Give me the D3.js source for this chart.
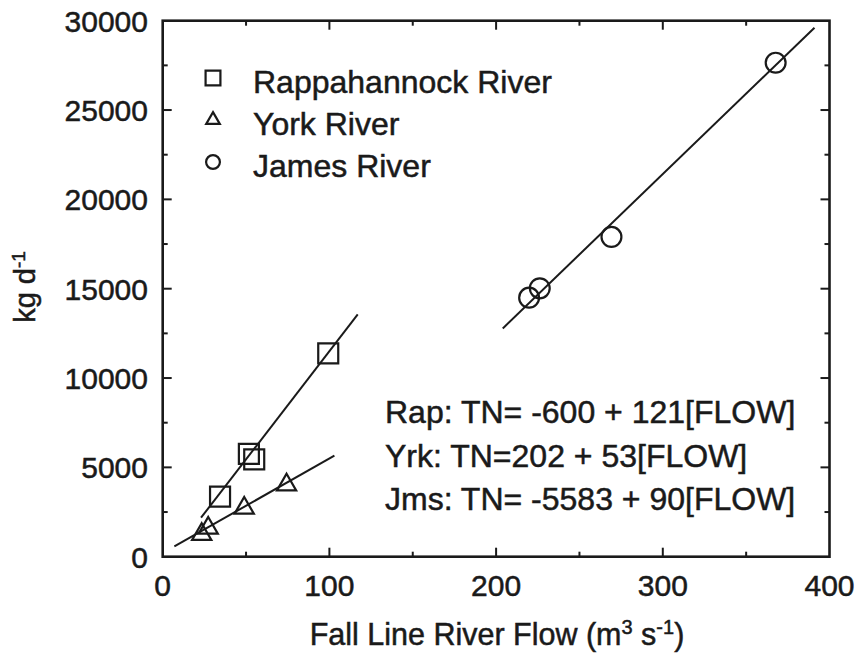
<!DOCTYPE html>
<html>
<head>
<meta charset="utf-8">
<script src="https://cdn.jsdelivr.net/npm/d3@7"></script>
<style>
  html, body { margin: 0; padding: 0; background: #fff; }
  svg { display: block; }
  text { font-family: "Liberation Sans", Arial, Helvetica, sans-serif; fill: #1a1a1a; stroke: #1a1a1a; stroke-width: 0.5px; }
</style>
</head>
<body>
<svg id="chart" width="861" height="654"></svg>
<script>
// Fall-line river flow (m3 s-1) vs total nitrogen load (kg d-1)
const rappFlow = [34.4, 51.7, 54.9, 99.3];
const rappLoad = [3360, 5750, 5450, 11380];
const yorkFlow = [23.4, 27.3, 48.9, 74.3];
const yorkLoad = [1250, 1600, 2720, 4020];
const jamesFlow = [219.8, 226.2, 269.2, 367.7];
const jamesLoad = [14500, 15020, 17900, 27650];

// Regression fits: TN = intercept + slope * FLOW, drawn over the span [from, to]
const fitNames = ["Rap", "Yrk", "Jms"];
const fitIntercepts = [-600, 202, -5583];
const fitSlopes = [121, 53, 90];
const fitFrom = [23, 7, 204];
const fitTo = [117, 103, 391];

const legendNames = ["Rappahannock River", "York River", "James River"];
const xTicks = [0, 100, 200, 300, 400];
const yTicks = [0, 5000, 10000, 15000, 20000, 25000, 30000];

const svg = d3.select("#chart");
const plotL = 162.7, plotR = 829.5, plotT = 20.7, plotB = 556.7;

const x = d3.scaleLinear().domain([0, 400]).range([plotL, plotR]);
const y = d3.scaleLinear().domain([0, 30000]).range([plotB, plotT]);

const ink = "#1a1a1a";

// Frame
svg.append("rect")
  .attr("x", plotL).attr("y", plotT)
  .attr("width", plotR - plotL).attr("height", plotB - plotT)
  .attr("fill", "none").attr("stroke", ink).attr("stroke-width", 2.6);

// Inward ticks on all four sides
const xMinor = d3.range(50, 400, 100);
const yMinor = d3.range(2500, 30000, 5000);
const major = 9, minor = 5;
const tickG = svg.append("g").attr("stroke", ink).attr("stroke-width", 2);
xTicks.slice(1, -1).forEach(v => {
  tickG.append("line").attr("x1", x(v)).attr("x2", x(v)).attr("y1", plotB).attr("y2", plotB - major);
  tickG.append("line").attr("x1", x(v)).attr("x2", x(v)).attr("y1", plotT).attr("y2", plotT + major);
});
xMinor.forEach(v => {
  tickG.append("line").attr("x1", x(v)).attr("x2", x(v)).attr("y1", plotB).attr("y2", plotB - minor);
  tickG.append("line").attr("x1", x(v)).attr("x2", x(v)).attr("y1", plotT).attr("y2", plotT + minor);
});
yTicks.slice(1, -1).forEach(v => {
  tickG.append("line").attr("y1", y(v)).attr("y2", y(v)).attr("x1", plotL).attr("x2", plotL + major);
  tickG.append("line").attr("y1", y(v)).attr("y2", y(v)).attr("x1", plotR).attr("x2", plotR - major);
});
yMinor.forEach(v => {
  tickG.append("line").attr("y1", y(v)).attr("y2", y(v)).attr("x1", plotL).attr("x2", plotL + minor);
  tickG.append("line").attr("y1", y(v)).attr("y2", y(v)).attr("x1", plotR).attr("x2", plotR - minor);
});

// Tick labels
svg.append("g").selectAll("text").data(xTicks).join("text")
  .attr("x", d => x(d)).attr("y", 596)
  .attr("text-anchor", "middle").attr("font-size", 30)
  .text(d => d);
svg.append("g").selectAll("text").data(yTicks).join("text")
  .attr("x", 148).attr("y", d => y(d) + 11)
  .attr("text-anchor", "end").attr("font-size", 30)
  .text(d => d);

// Axis titles
const xt = svg.append("text").attr("x", 497).attr("y", 645)
  .attr("text-anchor", "middle").attr("font-size", 30.5);
xt.append("tspan").text("Fall Line River Flow (m");
xt.append("tspan").attr("font-size", 20).attr("dy", -11).text("3");
xt.append("tspan").attr("dy", 11).text(" s");
xt.append("tspan").attr("font-size", 20).attr("dy", -11).text("-1");
xt.append("tspan").attr("dy", 11).text(")");

const yt = svg.append("text")
  .attr("transform", "translate(35,287) rotate(-90)")
  .attr("text-anchor", "middle").attr("font-size", 29);
yt.append("tspan").text("kg d");
yt.append("tspan").attr("font-size", 19).attr("dy", -10).text("-1");

// Regression lines
const line = d3.line().x(d => x(d[0])).y(d => y(d[1]));
fitNames.forEach((n, i) => {
  const f = v => fitIntercepts[i] + fitSlopes[i] * v;
  svg.append("path")
    .attr("d", line([[fitFrom[i], f(fitFrom[i])], [fitTo[i], f(fitTo[i])]]))
    .attr("fill", "none").attr("stroke", ink).attr("stroke-width", 2);
});

// Markers
const markStroke = 2.2;
const squareSym = d3.symbol().type(d3.symbolSquare).size(400);
const triSym = d3.symbol().type(d3.symbolTriangle).size(160);
const circleSym = d3.symbol().type(d3.symbolCircle).size(310);

svg.append("g").selectAll("path").data(d3.zip(rappFlow, rappLoad)).join("path")
  .attr("d", squareSym)
  .attr("transform", d => `translate(${x(d[0])},${y(d[1])})`)
  .attr("fill", "none").attr("stroke", ink).attr("stroke-width", markStroke);
svg.append("g").selectAll("path").data(d3.zip(yorkFlow, yorkLoad)).join("path")
  .attr("d", triSym)
  .attr("transform", d => `translate(${x(d[0])},${y(d[1])})`)
  .attr("fill", "none").attr("stroke", ink).attr("stroke-width", markStroke);
svg.append("g").selectAll("path").data(d3.zip(jamesFlow, jamesLoad)).join("path")
  .attr("d", circleSym)
  .attr("transform", d => `translate(${x(d[0])},${y(d[1])})`)
  .attr("fill", "none").attr("stroke", ink).attr("stroke-width", markStroke);

// Legend
const legendSyms = [
  d3.symbol().type(d3.symbolSquare).size(220),
  d3.symbol().type(d3.symbolTriangle).size(80),
  d3.symbol().type(d3.symbolCircle).size(150)
];
const legRowY = [82, 124, 166];
legendNames.forEach((name, i) => {
  svg.append("path").attr("d", legendSyms[i])
    .attr("transform", `translate(213,${legRowY[i] - 4})`)
    .attr("fill", "none").attr("stroke", ink).attr("stroke-width", 2.2);
  svg.append("text").attr("x", 253).attr("y", legRowY[i] + 11)
    .attr("font-size", 32).text(name);
});

// Fit equations
const eqRowY = [423, 467, 510];
fitNames.forEach((n, i) => {
  const b = fitIntercepts[i];
  const sep = b < 0 ? " " : "";
  svg.append("text").attr("x", 385).attr("y", eqRowY[i])
    .attr("font-size", 32)
    .text(`${n}: TN=${sep}${b} + ${fitSlopes[i]}[FLOW]`);
});
</script>
</body>
</html>
